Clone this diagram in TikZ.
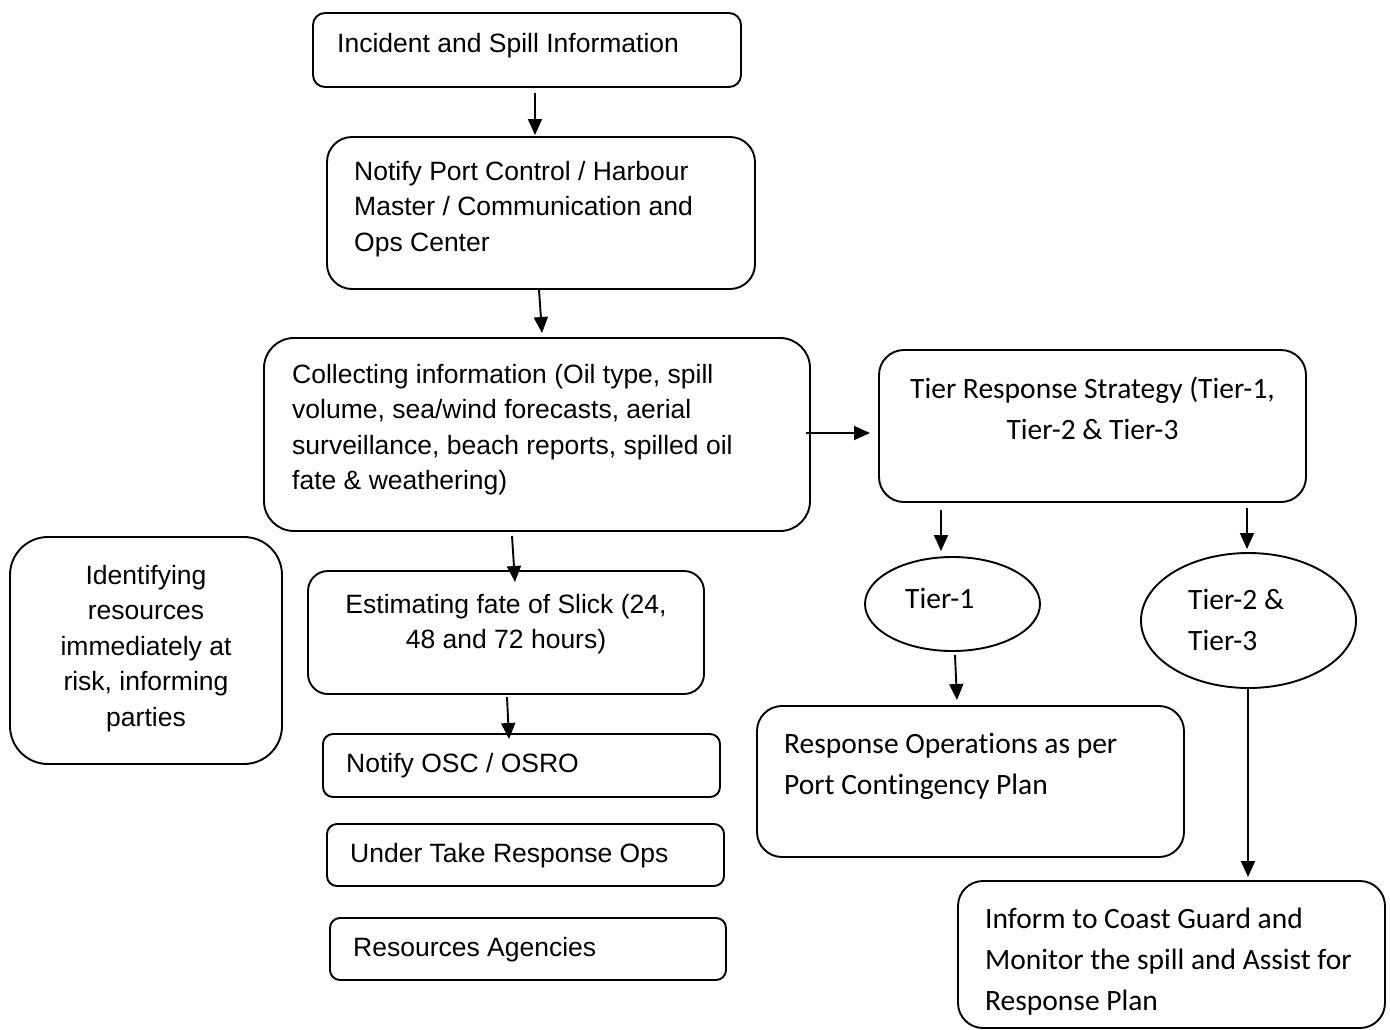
\documentclass[tikz,border=0pt]{standalone}
\usepackage{fontspec}
\newfontfamily\arialf{Liberation Sans}
\newfontfamily\calf[RawFeature={-liga}]{Carlito}
\usetikzlibrary{arrows.meta,shapes.geometric}
\newcommand{\Lstack}[1]{\vtop{\halign{##\hfil\cr#1\crcr}}}
\newcommand{\Cstack}[1]{\vtop{\halign{\hfil##\hfil\cr#1\crcr}}}
\begin{document}
\begin{tikzpicture}[x=1pt,y=-1pt,
  box/.style={draw=black,line width=1.9pt,fill=white,inner sep=0pt,outer sep=0pt},
  ell/.style={draw=black,line width=1.9pt,ellipse,fill=white,inner sep=0pt,outer sep=0pt},
  atxt/.style={inner sep=0pt,font=\fontsize{26.5}{35.5}\selectfont\arialf},
  ctxt/.style={inner sep=0pt,font=\fontsize{29.5}{41}\selectfont\calf},
  arr/.style={line width=1.9pt,-{Triangle[length=16pt,width=14pt]}}]
\useasboundingbox (0,0) rectangle (1390,1029);
\fill[white] (0,0) rectangle (1390,1029);
% boxes
\node[box,rounded corners=12pt,minimum width=428pt,minimum height=74pt] (b1) at (527,50) {};
\node[box,rounded corners=25pt,minimum width=428pt,minimum height=152pt] (b2) at (541,213) {};
\node[box,rounded corners=30pt,minimum width=546pt,minimum height=193pt] (b3) at (537,434.5) {};
\node[box,rounded corners=25pt,minimum width=427pt,minimum height=152pt] (b4) at (1092.5,426) {};
\node[box,rounded corners=38pt,minimum width=272pt,minimum height=227pt] (b5) at (146,650.5) {};
\node[box,rounded corners=20pt,minimum width=396pt,minimum height=123pt] (b6) at (506,632.5) {};
\node[ell,minimum width=175pt,minimum height=94pt] (e1) at (952.5,604) {};
\node[ell,minimum width=215pt,minimum height=135pt] (e2) at (1248.5,620.5) {};
\node[box,rounded corners=25pt,minimum width=427pt,minimum height=151pt] (b7) at (970.5,781.5) {};
\node[box,rounded corners=10pt,minimum width=397pt,minimum height=63pt] (b8) at (521.5,765.5) {};
\node[box,rounded corners=10pt,minimum width=397pt,minimum height=62pt] (b9) at (525.5,855) {};
\node[box,rounded corners=10pt,minimum width=396pt,minimum height=62pt] (b10) at (528,949) {};
\node[box,rounded corners=25pt,minimum width=427pt,minimum height=147pt] (b11) at (1171.5,954.5) {};
% texts
\node[atxt,anchor=base west] (t1) at (337,52) {Incident and Spill Information};
\node[atxt,anchor=base west] (t2) at (354,180) {\Lstack{Notify Port Control / Harbour\cr Master / Communication and\cr Ops Center}};
\node[atxt,anchor=base west] (t3) at (292,383) {\Lstack{Collecting information (Oil type, spill\cr volume, sea/wind forecasts, aerial\cr surveillance, beach reports, spilled oil\cr fate \& weathering)}};
\node[ctxt,anchor=base] (t4) at (1092.5,398) {\Cstack{Tier Response Strategy (Tier-1,\cr Tier-2 \& Tier-3}};
\node[atxt,anchor=base] (t5) at (146,584) {\Cstack{Identifying\cr resources\cr immediately at\cr risk, informing\cr parties}};
\node[atxt,anchor=base] (t6) at (506,613) {\Cstack{Estimating fate of Slick (24,\cr 48 and 72 hours)}};
\node[ctxt,anchor=base west] (t7) at (905,608) {Tier-1};
\node[ctxt,anchor=base west] (t8) at (1188,609) {\Lstack{Tier-2 \&\cr Tier-3}};
\node[ctxt,anchor=base west] (t9) at (784,753) {\Lstack{Response Operations as per\cr Port Contingency Plan}};
\node[atxt,anchor=base west] (t10) at (346,772) {Notify OSC / OSRO};
\node[atxt,anchor=base west] (t11) at (350,862) {Under Take Response Ops};
\node[atxt,anchor=base west] (t12) at (353,956) {Resources Agencies};
\node[ctxt,anchor=base west] (t13) at (985,928) {\Lstack{Inform to Coast Guard and\cr Monitor the spill and Assist for\cr Response Plan}};
% arrows
\draw[arr] ([xshift=8pt,yshift=-6pt]b1.south) -- ([xshift=-6pt,yshift=2pt]b2.north);
\draw[arr] ([xshift=-2pt,yshift=-1pt]b2.south) -- ([xshift=5pt,yshift=5pt]b3.north);
\draw[arr] ([xshift=-25pt,yshift=-5pt]b3.south) -- ([xshift=9pt,yshift=-11pt]b6.north);
\draw[arr] ([xshift=-4pt,yshift=1.5pt]b3.east) -- ([xshift=-9pt,yshift=-7pt]b4.west);
\draw[arr] ([xshift=-151.5pt,yshift=-8pt]b4.south) -- ([xshift=-11.5pt,yshift=6pt]e1.north);
\draw[arr] ([xshift=154.5pt,yshift=-6pt]b4.south) -- ([xshift=-1.5pt,yshift=4pt]e2.north);
\draw[arr] ([xshift=2.5pt,yshift=-4pt]e1.south) -- ([xshift=-13.5pt,yshift=6pt]b7.north);
\draw[arr] ([xshift=1pt,yshift=-3pt]b6.south) -- ([xshift=-12.5pt,yshift=-5pt]b8.north);
\draw[arr] ([xshift=-0.5pt]e2.south) -- ([xshift=76.5pt,yshift=4pt]b11.north);
\end{tikzpicture}
\end{document}
